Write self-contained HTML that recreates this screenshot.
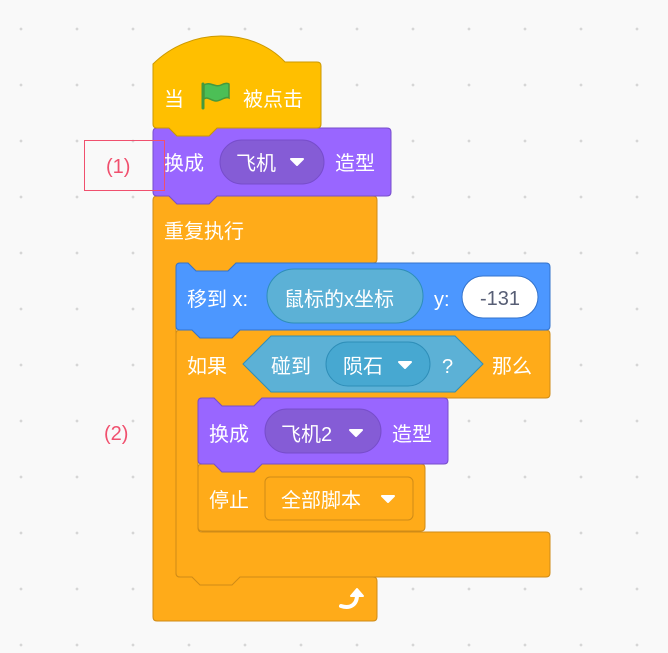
<!DOCTYPE html>
<html><head><meta charset="utf-8"><style>
html,body{margin:0;padding:0}
body{width:668px;height:653px;background-color:#f9f9f9;background-image:radial-gradient(circle,#d6d6d6 1.2px,transparent 1.6px);background-size:56px 56px;background-position:-7px 1px;overflow:hidden}
svg{position:absolute;left:0;top:0}
text{font-family:"Liberation Sans","Noto Sans CJK SC",sans-serif;font-size:20px;fill:#fff}
</style></head><body>
<svg width="668" height="653" viewBox="0 0 668 653">
<!-- forever -->
<path d="M153,200 Q153,196 157,196 H169 l8,8 H209 l8,-8 H373 Q377,196 377,200 V259 Q377,263 373,263 H236 l-8,8 H196 l-8,-8 H180 Q176,263 176,267 V573 Q176,577 180,577 H373 Q377,577 377,581 V617 Q377,621 373,621 H157 Q153,621 153,617 Z" fill="#ffab19" stroke="#cf8b17"/>
<!-- if -->
<path d="M176,334 Q176,330 180,330 H192 l8,8 H232 l8,-8 H546 Q550,330 550,334 V394 Q550,398 546,398 H262 l-8,8 H222 l-8,-8 H202 Q198,398 198,402 V528 Q198,532 202,532 H546 Q550,532 550,536 V573 Q550,577 546,577 H240 l-8,8 H200 l-8,-8 H180 Q176,577 176,573 Z" fill="#ffab19" stroke="#cf8b17"/>
<!-- stop -->
<path d="M198,468 Q198,464 202,464 H214 l8,8 H254 l8,-8 H421 Q425,464 425,468 V527 Q425,531 421,531 H202 Q198,531 198,527 Z" fill="#ffab19" stroke="#cf8b17"/>
<!-- purple2 -->
<path d="M198,402 Q198,398 202,398 H214 l8,8 H254 l8,-8 H444 Q448,398 448,402 V460 Q448,464 444,464 H262 l-8,8 H222 l-8,-8 H202 Q198,464 198,460 Z" fill="#9966ff" stroke="#774dcb"/>
<!-- move -->
<path d="M176,267 Q176,263 180,263 H188 l8,8 H228 l8,-8 H546 Q550,263 550,267 V326 Q550,330 546,330 H240 l-8,8 H200 l-8,-8 H180 Q176,330 176,326 Z" fill="#4c97ff" stroke="#3373cc"/>
<!-- purple1 -->
<path d="M153,132 Q153,128 157,128 H169 l8,8 H209 l8,-8 H387 Q391,128 391,132 V192 Q391,196 387,196 H217 l-8,8 H177 l-8,-8 H157 Q153,196 153,192 Z" fill="#9966ff" stroke="#774dcb"/>
<!-- hat -->
<path d="M153,64 C190,27 252,27 285,62 H317 Q321,62 321,66 V124 Q321,128 317,128 H217 l-8,8 H177 l-8,-8 H157 Q153,128 153,124 Z" fill="#ffbf00" stroke="#cc9900"/>

<text x="164" y="106">当</text>
<g transform="translate(201,82)">
<path d="M2,2 V26" stroke="#45993d" stroke-width="3" stroke-linecap="round"/>
<path d="M3,3 C9,-1 14,6 20,3 C24,1 27,1 28,2 V16 C24,14 20,19 15,19 C10,19 7,14 3,17 Z" fill="#4cbf56" stroke="#45993d" stroke-width="1.5"/>
</g>
<text x="243" y="106">被点击</text>

<text x="164" y="170">换成</text>
<rect x="220" y="140" width="104" height="44" rx="22" fill="#855cd6" stroke="#774dcb"/>
<text x="236" y="170">飞机</text>
<path d="M291,159 h12 l-6,6 z" fill="#fff" stroke="#fff" stroke-linejoin="round" stroke-width="2"/>
<text x="335" y="170">造型</text>

<text x="164" y="238">重复执行</text>

<text x="187" y="306">移到 x:</text>
<rect x="267" y="269" width="156" height="54" rx="27" fill="#5cb1d6" stroke="#2e8eb8"/>
<text x="284" y="306">鼠标的x坐标</text>
<text x="434" y="306">y:</text>
<rect x="462" y="276" width="76" height="42" rx="21" fill="#fff" stroke="#3373cc"/>
<text x="500" y="305" text-anchor="middle" style="fill:#575e75">-131</text>

<text x="187" y="373">如果</text>
<polygon points="243,364 271,336 455,336 483,364 455,392 271,392" fill="#5cb1d6" stroke="#2e8eb8"/>
<text x="271" y="373">碰到</text>
<rect x="326" y="342" width="104" height="44" rx="22" fill="#47a8d1" stroke="#2e8eb8"/>
<text x="343" y="373">陨石</text>
<path d="M399,362 h12 l-6,6 z" fill="#fff" stroke="#fff" stroke-linejoin="round" stroke-width="2"/>
<text x="442" y="373">?</text>
<text x="492" y="373">那么</text>

<text x="209" y="441">换成</text>
<rect x="265" y="409" width="116" height="44" rx="22" fill="#855cd6" stroke="#774dcb"/>
<text x="281" y="441">飞机2</text>
<path d="M350,430 h12 l-6,6 z" fill="#fff" stroke="#fff" stroke-linejoin="round" stroke-width="2"/>
<text x="392" y="441">造型</text>

<text x="209" y="507">停止</text>
<rect x="265" y="477" width="148" height="43" rx="5" fill="#ffab19" stroke="#cf8b17"/>
<text x="281" y="507">全部脚本</text>
<path d="M382,496 h12 l-6,6 z" fill="#fff" stroke="#fff" stroke-linejoin="round" stroke-width="2"/>

<path d="M341,606 C350,609 357,605 357,595" fill="none" stroke="#fff" stroke-width="4" stroke-linecap="round"/>
<path d="M351,596 L357,589 L363,596 Z" fill="#fff" stroke="#fff" stroke-width="2" stroke-linejoin="round"/>

<rect x="84.5" y="140.5" width="80" height="50" fill="none" stroke="#f0506e" stroke-width="1"/>
<text x="106" y="173" style="fill:#f0506e">(1)</text>
<text x="104" y="440" style="fill:#f0506e">(2)</text>
</svg>
</body></html>
